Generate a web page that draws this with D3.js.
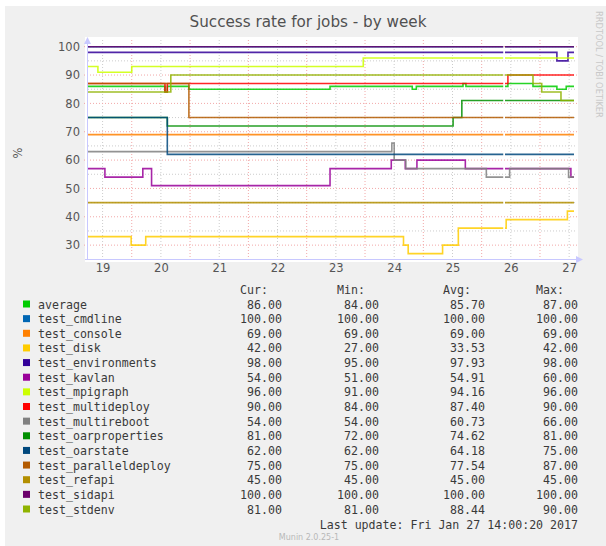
<!DOCTYPE html>
<html>
<head>
<meta charset="utf-8">
<script src="https://d3js.org/d3.v7.min.js"></script>
<style>
body { margin: 0; background: white; }
svg { display: block; }
text { font-family: "DejaVu Sans", sans-serif; }
.mono { font-family: "DejaVu Sans Mono", monospace; }
</style>
</head>
<body>
<svg width="606" height="546"></svg>
<script>
// --- data (day of January 2017, value) : each pair is where a new value starts
var title = "Success rate for jobs - by week";
var names = ["average", "test_cmdline", "test_console", "test_disk", "test_environments",
  "test_kavlan", "test_mpigraph", "test_multideploy", "test_multireboot", "test_oarproperties",
  "test_oarstate", "test_paralleldeploy", "test_refapi", "test_sidapi", "test_stdenv"];
var colors = ["#00CC00", "#0066B3", "#FF8000", "#FFCC00", "#330099", "#990099", "#CCFF00",
  "#FF0000", "#808080", "#008F00", "#00487D", "#B35A00", "#B38F00", "#6B006B", "#8FB300"];

var average = [[19.25,86],[20.57,84],[20.61,86],[20.98,85],[23.40,86],[24.81,85],[24.88,86],[25.68,87],[25.73,86],[26.45,87],[26.88,86],[27.29,85],[27.45,86]];
var test_cmdline = [[19.25,100]];
var test_console = [[19.25,69]];
var test_disk = [[19.25,33],[19.99,30],[20.24,33],[24.66,30],[24.74,27],[25.33,30],[25.60,36],[26.42,39],[27.47,42]];
var test_environments = [[19.25,98],[27.29,95],[27.48,98]];
var test_kavlan = [[19.25,57],[19.54,54],[20.19,57],[20.34,51],[23.40,57],[24.45,60],[24.69,57],[24.89,60],[25.72,57],[27.53,54]];
var test_mpigraph = [[19.25,93],[19.42,91],[20.00,93],[23.97,96]];
var test_multideploy = [[19.25,87],[20.57,84],[20.61,87],[26.45,90]];
var test_multireboot = [[19.25,63],[24.46,66],[24.50,60],[24.70,57],[26.08,54],[26.48,57],[27.49,54]];
var test_oarproperties = [[19.25,75],[20.61,72],[25.51,75],[25.66,81]];
var test_oarstate = [[19.25,75],[20.61,62]];
var test_paralleldeploy = [[19.25,87],[20.98,75]];
var test_refapi = [[19.25,45]];
var test_sidapi = [[19.25,100]];
var test_stdenv = [[19.25,84],[20.67,90],[26.88,87],[27.03,84],[27.36,81]];

var series = [average, test_cmdline, test_console, test_disk, test_environments, test_kavlan,
  test_mpigraph, test_multideploy, test_multireboot, test_oarproperties, test_oarstate,
  test_paralleldeploy, test_refapi, test_sidapi, test_stdenv];

var curVals = ["86.00","100.00","69.00","42.00","98.00","54.00","96.00","90.00","54.00","81.00","62.00","75.00","45.00","100.00","81.00"];
var minVals = ["84.00","100.00","69.00","27.00","95.00","51.00","91.00","84.00","54.00","72.00","62.00","75.00","45.00","100.00","81.00"];
var avgVals = ["85.70","100.00","69.00","33.53","97.93","54.91","94.16","87.40","60.73","74.62","64.18","77.54","45.00","100.00","88.44"];
var maxVals = ["87.00","100.00","69.00","42.00","98.00","60.00","96.00","90.00","66.00","81.00","75.00","87.00","45.00","100.00","90.00"];

var startDay = 19.25, endDay = 27.5833;   // Jan 19 06:00 .. Jan 27 14:00
var gap = [26.37, 26.40];                   // no data here
var yTicks = [30, 40, 50, 60, 70, 80, 90, 100];
var lastUpdate = "Last update: Fri Jan 27 14:00:20 2017";

function day(d) { return new Date(Date.UTC(2016, 11, 31) + d * 864e5); }

var svg = d3.select("svg");
svg.append("rect").attr("x", 5).attr("y", 6).attr("width", 601).attr("height", 540).attr("fill", "#F0F0F0");
svg.append("rect").attr("x", 85).attr("y", 37).attr("width", 493).attr("height", 225).attr("fill", "#FFFFFF");

var x = d3.scaleUtc().domain([day(startDay), day(endDay)]).range([88, 574]);
var y = d3.scaleLinear().domain([25, 100]).range([259.3, 46.7]);

// grid
var minorX = d3.utcHour.every(12).range(day(19.5), day(27.6)).filter(function(d) { return d.getUTCHours() == 12; });
var majorX = d3.utcDay.range(day(20), day(27.6));
var grid = svg.append("g");
grid.selectAll(".vx").data(minorX).enter().append("line")
  .attr("x1", function(d) { return x(d); }).attr("x2", function(d) { return x(d); })
  .attr("y1", 40).attr("y2", 259.3)
  .attr("stroke", "#cccccc").attr("stroke-dasharray", "1,2");
grid.selectAll(".vX").data(majorX).enter().append("line")
  .attr("x1", function(d) { return x(d); }).attr("x2", function(d) { return x(d); })
  .attr("y1", 40).attr("y2", 259.3)
  .attr("stroke", "#f2a8a8").attr("stroke-dasharray", "1,2");
grid.selectAll(".hy").data(d3.range(35, 100, 10)).enter().append("line")
  .attr("x1", 88).attr("x2", 577)
  .attr("y1", function(d) { return y(d); }).attr("y2", function(d) { return y(d); })
  .attr("stroke", "#cccccc").attr("stroke-dasharray", "1,2");
grid.selectAll(".hY").data(yTicks).enter().append("line")
  .attr("x1", 84).attr("x2", 577)
  .attr("y1", function(d) { return y(d); }).attr("y2", function(d) { return y(d); })
  .attr("stroke", "#f2a8a8").attr("stroke-dasharray", "1,2");

// series lines
var line = d3.line()
  .defined(function(d) { return d[1] != null; })
  .x(function(d) { return x(day(d[0])); })
  .y(function(d) { return y(d[1]); })
  .curve(d3.curveStepAfter);

function valueAt(s, t) {
  var v = s[0][1];
  s.forEach(function(p) { if (p[0] <= t) v = p[1]; });
  return v;
}
function withGap(s) {
  var pts = s.filter(function(p) { return p[0] < gap[0]; });
  pts.push([gap[0], valueAt(s, gap[0])], [gap[0], null], [gap[1], valueAt(s, gap[1])]);
  s.forEach(function(p) { if (p[0] > gap[1]) pts.push(p); });
  pts.push([endDay, s[s.length - 1][1]]);
  return pts;
}

svg.append("g").selectAll("path").data(series).enter().append("path")
  .attr("d", function(d) { return line(withGap(d)); })
  .attr("fill", "none")
  .attr("stroke", function(d, i) { return colors[i]; })
  .attr("stroke-width", 1.6)
  .attr("stroke-opacity", 0.85);

// axes
var axisCol = "#c8c8ff";
svg.append("line").attr("x1", 87.5).attr("x2", 87.5).attr("y1", 42).attr("y2", 259.5).attr("stroke", axisCol);
svg.append("line").attr("x1", 85).attr("x2", 578).attr("y1", 259.5).attr("y2", 259.5).attr("stroke", axisCol);
svg.append("path").attr("d", "M84,44L87.5,37L91,44Z").attr("fill", axisCol);
svg.append("path").attr("d", "M576,256L583,259.5L576,263Z").attr("fill", axisCol);

var xAxis = d3.axisBottom(x)
  .tickValues(d3.utcDay.range(day(19), day(28)).map(function(d) { return d3.utcHour.offset(d, 12); }))
  .tickFormat(d3.utcFormat("%d")).tickSize(0).tickPadding(5);
var gx = svg.append("g").attr("transform", "translate(0,259.3)").call(xAxis);
gx.select(".domain").remove();
gx.selectAll("text").attr("fill", "#555").style("font-size", "11.5px").style("font-family", "DejaVu Sans");

var yAxis = d3.axisLeft(y).tickValues(yTicks).tickSize(0).tickPadding(8);
var gy = svg.append("g").attr("transform", "translate(88,0)").call(yAxis);
gy.select(".domain").remove();
gy.selectAll("text").attr("fill", "#555").style("font-size", "11.5px").style("font-family", "DejaVu Sans");

// texts
svg.append("text").attr("x", 308).attr("y", 27).attr("text-anchor", "middle")
  .attr("fill", "#505050").style("font-size", "15.2px").text(title);
svg.append("text").attr("transform", "translate(22,153) rotate(-90)").attr("text-anchor", "middle")
  .attr("fill", "#555").style("font-size", "11.5px").text("%");
svg.append("text").attr("transform", "translate(596,11) rotate(90)")
  .attr("fill", "#c8c8c8").style("font-size", "8.3px").text("RRDTOOL / TOBI OETIKER");

// legend
var colRight = [282, 379, 485, 578];
var headers = ["Cur:", "Min:", "Avg:", "Max:"];
var legend = svg.append("g").attr("class", "mono").style("font-size", "11.6px").attr("fill", "#3a3a3a");
headers.forEach(function(h, j) {
  legend.append("text").attr("class", "mono").attr("x", colRight[j] - 14).attr("y", 294)
    .attr("text-anchor", "end").text(h);
});
var rowY = d3.scaleLinear().domain([0, 14]).range([308.5, 513.5]);
names.forEach(function(n, i) {
  legend.append("rect").attr("x", 23).attr("y", rowY(i) - 8).attr("width", 7).attr("height", 7)
    .attr("fill", colors[i]);
  legend.append("text").attr("class", "mono").attr("x", 38).attr("y", rowY(i)).text(n);
  [curVals, minVals, avgVals, maxVals].forEach(function(arr, j) {
    legend.append("text").attr("class", "mono").attr("x", colRight[j]).attr("y", rowY(i))
      .attr("text-anchor", "end").text(arr[i]);
  });
});
legend.append("text").attr("class", "mono").attr("x", 578).attr("y", 528.5)
  .attr("text-anchor", "end").text(lastUpdate);
svg.append("text").attr("x", 309).attr("y", 540).attr("text-anchor", "middle")
  .attr("fill", "#b8b8b8").style("font-size", "8px").text("Munin 2.0.25-1");
</script>
</body>
</html>
